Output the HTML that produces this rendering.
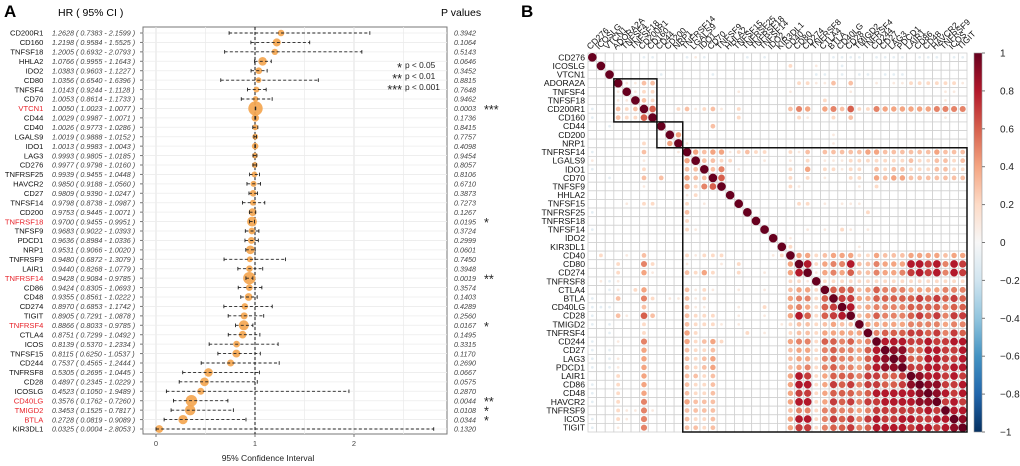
<!DOCTYPE html>
<html><head><meta charset="utf-8"><style>
html,body{margin:0;padding:0;background:#fff;}
svg{display:block;font-family:"Liberation Sans",Arial,sans-serif;}
</style></head><body>
<svg id="fig" width="1020" height="466" viewBox="0 0 1020 466">
<g id="panelA"></g>
<g id="panelB"></g>
</svg>
<script>
const genesA=["CD200R1","CD160","TNFSF18","HHLA2","IDO2","CD80","TNFSF4","CD70","VTCN1","CD44","CD40","LGALS9","IDO1","LAG3","CD276","TNFRSF25","HAVCR2","CD27","TNFSF14","CD200","TNFRSF18","TNFSF9","PDCD1","NRP1","TNFRSF9","LAIR1","TNFRSF14","CD86","CD48","CD274","TIGIT","TNFRSF4","CTLA4","ICOS","TNFSF15","CD244","TNFRSF8","CD28","ICOSLG","CD40LG","TMIGD2","BTLA","KIR3DL1"];
const hrVals=[1.2628,1.2198,1.2005,1.0766,1.0383,1.0356,1.0143,1.0053,1.0050,1.0029,1.0026,1.0019,1.0013,0.9993,0.9977,0.9939,0.9850,0.9809,0.9798,0.9753,0.9700,0.9683,0.9636,0.9531,0.9480,0.9440,0.9428,0.9424,0.9355,0.8970,0.8905,0.8866,0.8751,0.8139,0.8115,0.7537,0.5305,0.4897,0.4523,0.3576,0.3453,0.2728,0.0325];
const loVals=[0.7383,0.9584,0.6932,0.9955,0.9603,0.6540,0.9244,0.8614,1.0023,0.9987,0.9773,0.9888,0.9983,0.9805,0.9798,0.9455,0.9188,0.9390,0.8738,0.9445,0.9455,0.9022,0.8984,0.9066,0.6872,0.8268,0.9084,0.8305,0.8561,0.6853,0.7291,0.8033,0.7299,0.5370,0.6250,0.4565,0.2695,0.2345,0.1050,0.1762,0.1525,0.0819,0.0004];
const hiVals=[2.1599,1.5525,2.0793,1.1643,1.1227,1.6396,1.1128,1.1733,1.0077,1.0071,1.0286,1.0152,1.0043,1.0185,1.0160,1.0448,1.0560,1.0247,1.0987,1.0071,0.9951,1.0393,1.0336,1.0020,1.3079,1.0779,0.9785,1.0693,1.0222,1.1742,1.0878,0.9785,1.0492,1.2334,1.0537,1.2444,1.0445,1.0229,1.9489,0.7260,0.7817,0.9089,2.8053];
const pVals=["0.3942","0.1064","0.5143","0.0646","0.3452","0.8815","0.7648","0.9462","0.0003","0.1736","0.8415","0.7757","0.4098","0.9454","0.8057","0.8106","0.6710","0.3873","0.7273","0.1267","0.0195","0.3724","0.2999","0.0601","0.7450","0.3948","0.0019","0.3574","0.1403","0.4289","0.2560","0.0167","0.1495","0.3315","0.1170","0.2690","0.0667","0.0575","0.2870","0.0044","0.0108","0.0344","0.1320"];
const xTicksA=[0,1,2];

const genesB=["CD276","ICOSLG","VTCN1","ADORA2A","TNFSF4","TNFSF18","CD200R1","CD160","CD44","CD200","NRP1","TNFRSF14","LGALS9","IDO1","CD70","TNFSF9","HHLA2","TNFSF15","TNFRSF25","TNFRSF18","TNFSF14","IDO2","KIR3DL1","CD40","CD80","CD274","TNFRSF8","CTLA4","BTLA","CD40LG","CD28","TMIGD2","TNFRSF4","CD244","CD27","LAG3","PDCD1","LAIR1","CD86","CD48","HAVCR2","TNFRSF9","ICOS","TIGIT"];
// lower triangle codes: 0-9 => r=d/10, a/b/c => -0.1/-0.2/-0.3
const corrRows=["","0","00","000","0001","00011","a00323","a003226","00a00000","000000000","0000002004",
"a0000030001","100000100004","a000002000033","00a00030300433","000000100004256","0000000000012000","00001022000201000",
"a00000000003000000","0000000000020000000","a00000000002100000","000000000000000000000","0000000000000000000000",
"0200103"+"0000"+"21222"+"00000"+"12",
"000"+"2"+"00"+"52"+"000"+"1"+"000"+"1"+"0"+"2"+"00000"+"4",
"000"+"2"+"00"+"41"+"000"+"3242"+"00"+"2"+"00"+"1"+"00"+"48",
"0"+"1a1"+"0000000000000000000"+"221",
"00a1"+"0"+"2"+"4"+"0000"+"3121"+"00"+"1"+"00"+"1"+"00"+"3442",
"a00"+"3"+"00"+"52"+"0"+"11"+"3120"+"00000000"+"45526",
"aaa"+"000"+"3"+"0000"+"311"+"000"+"1"+"00"+"2"+"00"+"454267",
"a00"+"31"+"0"+"63"+"000"+"3222"+"00"+"1"+"00"+"1"+"00"+"4862678",
"a0a"+"000"+"2"+"0000"+"32221"+"0"+"1"+"0000"+"1"+"23323433",
"00a"+"000"+"2"+"0000"+"42"+"00000"+"2"+"0"+"1"+"00"+"233244444",
"a00"+"1"+"00"+"5"+"0000"+"42342"+"0000000"+"4552665645",
"a0a"+"0"+"00"+"4"+"0000"+"32230"+"0000000"+"3442565546"+"8",
"a0a"+"1"+"00"+"4"+"0000"+"32340"+"0000000"+"3442565546"+"89",
"a0a"+"1"+"00"+"4"+"0000"+"32340"+"0000000"+"3452565546"+"899",
"000"+"2"+"00"+"4"+"0000"+"33230"+"0000000"+"4872466657"+"7667",
"a00"+"2"+"00"+"4"+"0000"+"32230"+"0000000"+"4882476757"+"76679",
"a00"+"2"+"00"+"4"+"0000"+"32230"+"0000000"+"4772466656"+"888889",
"a00"+"2"+"00"+"5"+"0000"+"43330"+"0000000"+"4882476757"+"7888899",
"000"+"2"+"11"+"5"+"1"+"000"+"33330"+"0000000"+"3552565545"+"77777787",
"a00"+"2"+"10"+"5"+"0000"+"32230"+"0000000"+"4882576757"+"877887788",
"a00"+"1"+"00"+"5"+"0000"+"33230"+"0000000"+"4772566756"+"8888788789"];
const boxRanges=[[3,7],[8,10],[11,43]];
const cbTicks=["1","0.8","0.6","0.4","0.2","0","\u22120.2","\u22120.4","\u22120.6","\u22120.8","\u22121"];

const NS="http://www.w3.org/2000/svg";
function mk(tag,attrs,parent,text){const e=document.createElementNS(NS,tag);for(const k in attrs)e.setAttribute(k,attrs[k]);if(text!==undefined)e.textContent=text;parent.appendChild(e);return e;}

// ---------- Panel A ----------
const A=document.getElementById("panelA");
const px0=143,px1=447,py0=27,py1=434;
const xA=v=>156+v*99;
const yA=i=>33+i*(429-33)/(genesA.length-1);
let t;
t=mk("text",{x:4,y:17,"font-size":17,"font-weight":"bold"},A,"A");

t=mk("text",{x:58,y:16,"font-size":10.5},A,"HR ( 95% CI )");

t=mk("text",{x:441,y:16,"font-size":10.5},A,"P values");

t=mk("rect",{x:px0,y:py0,width:px1-px0,height:py1-py0,fill:"#fff",stroke:"#777","stroke-width":1},A);

[0.5,1.5,2.5].forEach(v=>{const l=mk("line",{x1:xA(v),x2:xA(v),y1:py0,y2:py1,stroke:"#ececec","stroke-width":0.8},A);
});
xTicksA.forEach(v=>{const l=mk("line",{x1:xA(v),x2:xA(v),y1:py0,y2:py1,stroke:"#e2e2e2","stroke-width":1},A);

const tk=mk("line",{x1:xA(v),x2:xA(v),y1:py1,y2:py1+3,stroke:"#777"},A);

const lb=mk("text",{x:xA(v),y:py1+12,"font-size":7.5,"text-anchor":"middle",fill:"#444"},A,String(v));
});
genesA.forEach((g,i)=>{const y=yA(i);
 const h=mk("line",{x1:px0,x2:px1,y1:y,y2:y,stroke:"#ececec","stroke-width":0.8},A);
 });
let vl=mk("line",{x1:xA(1),x2:xA(1),y1:py0,y2:py1,stroke:"#111","stroke-width":1,"stroke-dasharray":"3,2"},A);

genesA.forEach((g,i)=>{const y=yA(i);const p=parseFloat(pVals[i]);const sig=p<0.05;
 const stars=p<0.001?"***":p<0.01?"**":p<0.05?"*":"";
 const lab=mk("text",{x:130/3,y:y+2.7,"font-size":7.6,"text-anchor":"end",fill:sig?"#e8232a":"#111"},A,g);
 
 const hrt=mk("text",{x:52,y:y+2.7,"font-size":7.2,"font-style":"italic",fill:"#444"},A,hrVals[i].toFixed(4)+" ( "+loVals[i].toFixed(4)+" - "+hiVals[i].toFixed(4)+" )");
 
 const tk=mk("line",{x1:px0-3,x2:px0,y1:y,y2:y,stroke:"#777"},A);
 
 const r=2.8+1.25*(-Math.log10(p));
 const c=mk("circle",{cx:xA(hrVals[i]),cy:y,r:r,fill:"#f4a650","fill-opacity":0.92},A);
 
 const ci=mk("line",{x1:xA(loVals[i]),x2:xA(hiVals[i]),y1:y,y2:y,stroke:"#222","stroke-width":0.9,"stroke-dasharray":"3,2.2"},A);
 
 [loVals[i],hiVals[i]].forEach(v=>{const e=mk("line",{x1:xA(v),x2:xA(v),y1:y-1.8,y2:y+1.8,stroke:"#222","stroke-width":0.9},A);
  });
 const pt=mk("text",{x:454,y:y+2.7,"font-size":7.2,"font-style":"italic",fill:"#444"},A,pVals[i]);
 
 if(stars){const s=mk("text",{x:484,y:y+5.5,"font-size":12.5,fill:"#222"},A,stars);
 }
});
[["*","p < 0.05",68],["**","p < 0.01",79],["***","p < 0.001",90]].forEach(d=>{
 const s=mk("text",{x:402,y:d[2]+4,"font-size":12.5,"text-anchor":"end",fill:"#222"},A,d[0]);
 
 const l=mk("text",{x:405,y:d[2],"font-size":8.3,fill:"#222"},A,d[1]);
 });
t=mk("text",{x:268,y:461,"font-size":8.5,"text-anchor":"middle",fill:"#222"},A,"95% Confidence Interval");


// ---------- Panel B ----------
const B=document.getElementById("panelB");
const n=genesB.length,gx0=588,gy0=53,cs=(967-588)/n;
const gxc=j=>gx0+(j+0.5)*cs, gyc=i=>gy0+(i+0.5)*cs;
function code(ch){if(ch>="0"&&ch<="9")return +ch/10;return -({a:1,b:2,c:3}[ch]||0)/10;}
function corr(i,j){if(i===j)return 1;if(j>i)[i,j]=[j,i];return code(corrRows[i][j]||"0");}
const stops=[[-1,[5,48,97]],[-0.8,[33,102,172]],[-0.6,[67,147,195]],[-0.4,[146,197,222]],[-0.2,[209,229,240]],[0,[247,247,247]],[0.2,[253,219,199]],[0.4,[244,165,130]],[0.6,[214,96,77]],[0.8,[178,24,43]],[1,[103,0,31]]];
function col(v){for(let k=0;k<stops.length-1;k++){const a=stops[k],b=stops[k+1];if(v<=b[0]){const f=(v-a[0])/(b[0]-a[0]);return "rgb("+a[1].map((c,q)=>Math.round(c+(b[1][q]-c)*f)).join(",")+")";}}return "rgb(103,0,31)";}
t=mk("text",{x:521,y:17,"font-size":17,"font-weight":"bold"},B,"B");

for(let i=0;i<n;i++)for(let j=0;j<n;j++){
 const c=mk("rect",{x:gx0+j*cs,y:gy0+i*cs,width:cs,height:cs,fill:"#fff",stroke:"#d0d0d0","stroke-width":0.8},B);
 }
for(let i=0;i<n;i++)for(let j=0;j<n;j++){const v=corr(i,j);if(v===0)continue;
 const c=mk("circle",{cx:gxc(j),cy:gyc(i),r:Math.sqrt(Math.abs(v))*cs*0.5,fill:col(v)},B);
 }
genesB.forEach((g,i)=>{
 const r=mk("text",{x:585,y:gyc(i)+3,"font-size":8.6,"text-anchor":"end",fill:"#111"},B,g);
 
 const c=mk("text",{x:0,y:0,"font-size":8.6,fill:"#111",transform:"translate("+(gxc(i)-2)+",50) rotate(-45)"},B,g);
 });
boxRanges.forEach(b=>{const r=mk("rect",{x:gx0+b[0]*cs,y:gy0+b[0]*cs,width:(b[1]-b[0]+1)*cs,height:(b[1]-b[0]+1)*cs,fill:"none",stroke:"#111","stroke-width":1.5},B);
 });
// colorbar
const cbx=974,cbw=8,cby0=53,cby1=432;
const defs=mk("defs",{},B);const lg=mk("linearGradient",{id:"cbg",x1:0,y1:1,x2:0,y2:0},defs);
stops.forEach(s=>mk("stop",{offset:((s[0]+1)/2*100)+"%","stop-color":col(s[0])},lg));
t=mk("rect",{x:cbx,y:cby0,width:cbw,height:cby1-cby0,fill:"url(#cbg)",stroke:"#999","stroke-width":0.6},B);

cbTicks.forEach((s,k)=>{const y=cby0+k*(cby1-cby0)/(cbTicks.length-1);
 const tk=mk("line",{x1:cbx+cbw,x2:cbx+cbw+3,y1:y,y2:y,stroke:"#777"},B);
 
 const l=mk("text",{x:1000,y:y+3.5,"font-size":10,fill:"#222"},B,s);
 });
</script>
</body></html>
